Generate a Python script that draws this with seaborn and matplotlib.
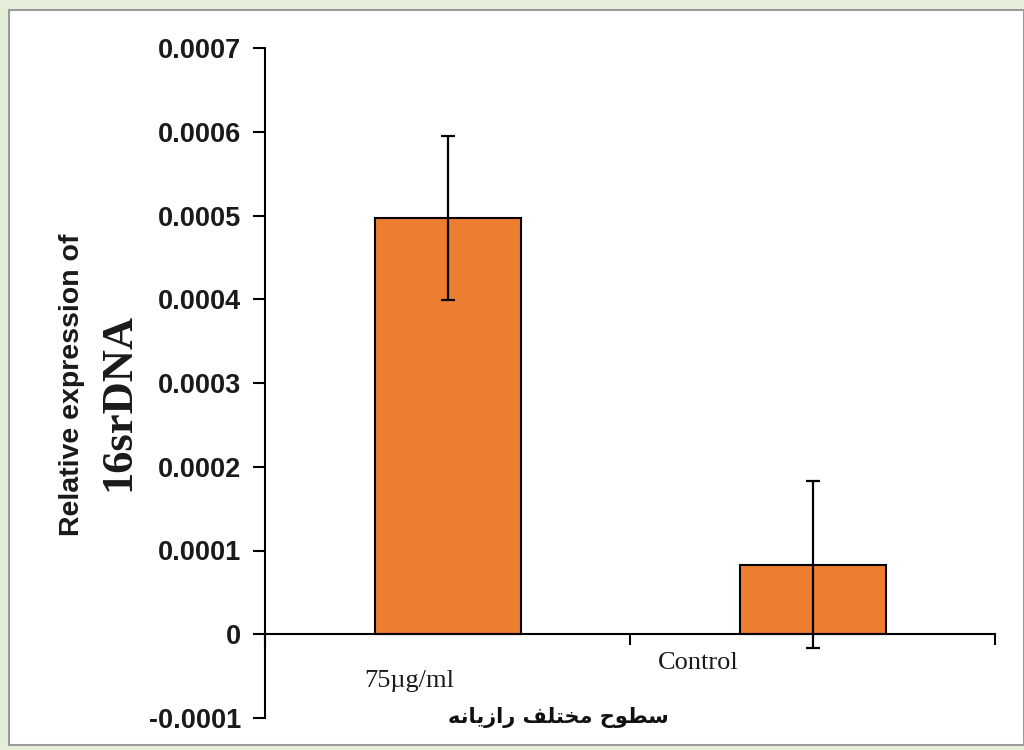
import matplotlib
matplotlib.use("Agg")
import matplotlib.pyplot as plt
import seaborn as sns
import numpy as np
import pandas as pd
from matplotlib.patches import Rectangle

# ---- data ----
categories = ["75µg/ml", "Control"]
values = [0.000497, 0.000083]
errors = [0.0000975, 0.000100]
ytick_values = [-0.0001, 0, 0.0001, 0.0002, 0.0003, 0.0004, 0.0005, 0.0006, 0.0007]
ytick_labels = ["-0.0001", "0", "0.0001", "0.0002", "0.0003", "0.0004", "0.0005", "0.0006", "0.0007"]
ylabel_line1 = "Relative expression of"
ylabel_line2 = "16srDNA"
# Persian x label "سطوح مختلف رازیانه" written with Arabic presentation forms (logical order)
xlabel_forms = ("\uFEB3\uFEC4\uFEEE\uFEA1" + " " +
                "\uFEE3\uFEA8\uFE98\uFEE0\uFED2" + " " +
                "\uFEAD\uFE8D\uFEAF\uFBFE\uFE8E\uFEE7\uFEEA")
xlabel_visual = xlabel_forms[::-1]

df = pd.DataFrame({"group": categories, "value": values})

sns.set_theme(style="white")
plt.rcParams["font.family"] = ["Liberation Sans", "DejaVu Sans"]

W, H = 1024, 750
fig = plt.figure(figsize=(W / 100, H / 100), dpi=100)
fig.patch.set_facecolor("#e4eed9")
fig.patches.append(Rectangle((9 / W, 5 / H), 1 - 9 / W, 1 - 15 / H, transform=fig.transFigure,
                             facecolor="white", edgecolor="#9a9a9a", linewidth=1.5, zorder=-10))

ax = fig.add_axes([265 / W, 1 - 718 / H, (995 - 265) / W, (718 - 48) / H])
ax.set_zorder(5)
ax.set_facecolor("none")

sns.barplot(data=df, x="group", y="value", color="#ED7D31", width=0.4,
            edgecolor="black", linewidth=1.5, saturation=1, ax=ax, zorder=2)
ax.errorbar(x=np.arange(len(values)), y=values, yerr=errors, fmt="none",
            ecolor="black", elinewidth=1.6, capsize=5, capthick=1.6, zorder=3)

ax.set_xlim(-0.5, 1.5)
ax.set_ylim(-0.0001, 0.0007)
ax.set_yticks(ytick_values)
ax.set_yticklabels(ytick_labels, fontsize=19.5, fontweight="bold", color="#1a1a1a")
ax.tick_params(axis="y", direction="out", length=9, width=1.5, color="black", left=True, pad=8)

ax.spines["top"].set_visible(False)
ax.spines["right"].set_visible(False)
ax.spines["left"].set_linewidth(1.5)
ax.spines["left"].set_color("black")
ax.spines["bottom"].set_position(("data", 0))
ax.spines["bottom"].set_linewidth(1.5)
ax.spines["bottom"].set_color("black")
ax.set_xticks([-0.5, 0.5, 1.5])
ax.set_xticklabels(["", "", ""])
ax.tick_params(axis="x", direction="out", length=8, width=1.5, color="black", bottom=True)
ax.set_xlabel("")
ax.set_ylabel("")

# category labels (placed under zero line, offset left as in the original)
ax.text(-0.105, -0.0000558, categories[0], ha="center", va="center", fontsize=19,
        family=["Liberation Serif", "DejaVu Serif"], color="#1a1a1a", clip_on=False)
ax.text(0.686, -0.0000344, categories[1], ha="center", va="center", fontsize=19,
        family=["Liberation Serif", "DejaVu Serif"], color="#1a1a1a", clip_on=False)

# Persian axis label
ax.text(0.305, -0.0001, xlabel_visual, ha="center", va="center", fontsize=15,
        fontweight="bold", family=["DejaVu Sans"], color="#111111", clip_on=False)

# y label (two lines, different fonts)
fig.text(72 / W, 1 - 385 / H, ylabel_line1, rotation=90, ha="center", va="center",
         fontsize=20.5, fontweight="bold", color="#1a1a1a")
fig.text(118 / W, 1 - 402 / H, ylabel_line2, rotation=90, ha="center", va="center",
         fontsize=32, fontweight="bold", family=["Liberation Serif", "DejaVu Serif"], color="#1a1a1a")

fig.savefig("out.png", dpi=100, facecolor=fig.get_facecolor())
